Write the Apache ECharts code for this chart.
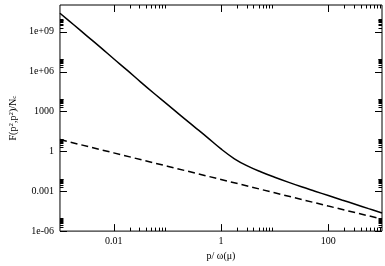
<!DOCTYPE html>
<html>
<head>
    <meta charset="UTF-8">
    <title></title>
    <script type="text/javascript" src="https://cdn.jsdelivr.net/npm/echarts@6/dist/echarts.min.js"></script>
</head>
<body style="margin:0">

<div id="main" style="height: 266px; width: 385px;"></div>
<script type="text/javascript">

    // values (log-log plot)
    var xSolid = [0.001, 0.00178, 0.00316, 0.00562, 0.01, 0.0178, 0.0316, 0.0562, 0.1, 0.178, 0.316, 0.562,
                  1, 1.78, 3.16, 5.62, 10, 17.8, 31.6, 56.2, 100, 178, 316, 562, 1000];
    var ySolid = [2.4e10, 3.4e9, 4.8e8, 6.8e7, 9.1e6, 1.26e6, 1.66e5, 2.3e4, 3.4e3, 480, 72, 10.7,
                  1.51, 0.275, 0.076, 0.0275, 0.0112, 4.8e-3, 2.14e-3, 1.0e-3, 4.7e-4, 2.2e-4, 1.05e-4, 4.9e-5, 2.3e-5];
    var xDashed = [0.001, 0.01, 0.1, 1, 10, 100, 1000];
    var yDashed = [7.6, 0.76, 0.076, 0.0076, 7.6e-4, 7.6e-5, 8e-6];

    var xTickVals = [0.01, 1, 100];
    var xTickLabels = ['0.01', '1', '100'];
    var yTickVals = [1e-6, 1e-3, 1, 1e3, 1e6, 1e9];
    var yTickLabels = ['1e-06', '0.001', '1', '1000', '1e+06', '1e+09'];
    var minorSteps = [2, 3, 4, 5, 6, 7, 8, 9];

    var xMin = 0.001, xMax = 1000, yMin = 1e-6, yMax = 1e11;

    var lg = function (v) { return Math.log10(v); };

    function pairs(xs, ys) {
        var res = [];
        for (var i = 0; i < xs.length; i++) res.push([lg(xs[i]), lg(ys[i])]);
        return res;
    }

    // tick data: major ticks + minor ticks (k * major)
    var xTickData = [], yTickData = [];
    xTickVals.forEach(function (v) {
        xTickData.push([lg(v), lg(yMin), 7]);
        minorSteps.forEach(function (k) { xTickData.push([lg(k * v), lg(yMin), 3.5]); });
    });
    yTickVals.forEach(function (v) {
        yTickData.push([lg(xMin), lg(v), 7]);
        minorSteps.forEach(function (k) { yTickData.push([lg(xMin), lg(k * v), 3.5]); });
    });

    function labelFor(vals, labels) {
        return function (v) {
            for (var i = 0; i < vals.length; i++) {
                if (Math.abs(lg(vals[i]) - v) < 1e-6) return labels[i];
            }
            return '';
        };
    }

    var font = 'Liberation Serif';
    var pen = { stroke: '#000', lineWidth: 1 };

    var myChart = echarts.init(document.getElementById('main'));

    option = {
        animation: false,
        grid: {
            left: 43, right: 2, top: 5, bottom: 23,
            show: true, borderColor: '#000', borderWidth: 1
        },
        xAxis: {
            type: 'value',
            min: lg(xMin), max: lg(xMax), interval: 1,
            axisLine: { show: false },
            axisTick: { show: false },
            splitLine: { show: false },
            axisLabel: {
                formatter: labelFor(xTickVals, xTickLabels),
                color: '#000', fontFamily: font, fontSize: 10, margin: 5
            },
            name: 'p/ ω(μ)',
            nameLocation: 'middle',
            nameGap: 15,
            nameTextStyle: { color: '#000', fontFamily: font, fontSize: 10 }
        },
        yAxis: {
            type: 'value',
            min: lg(yMin), max: lg(yMax), interval: 1,
            axisLine: { show: false },
            axisTick: { show: false },
            splitLine: { show: false },
            axisLabel: {
                formatter: labelFor(yTickVals, yTickLabels),
                color: '#000', fontFamily: font, fontSize: 10, margin: 6
            },
            name: '{n|F(p}{s|2}{n|,p}{s|2}{n|)/N}{c|c}',
            nameLocation: 'middle',
            nameGap: 30,
            nameTextStyle: {
                rich: {
                    n: { color: '#000', fontFamily: font, fontSize: 10, verticalAlign: 'bottom' },
                    s: { color: '#000', fontFamily: font, fontSize: 7, verticalAlign: 'top' },
                    c: { color: '#000', fontFamily: font, fontSize: 7, verticalAlign: 'bottom' }
                }
            }
        },
        series: [{
            type: 'line',
            data: pairs(xSolid, ySolid),
            smooth: 0.4,
            showSymbol: false,
            lineStyle: { color: '#000', width: 1.5 }
        }, {
            type: 'line',
            data: pairs(xDashed, yDashed),
            showSymbol: false,
            lineStyle: { color: '#000', width: 1.5, type: [7, 4] }
        }, {
            // ticks on bottom and top edges
            type: 'custom',
            data: xTickData,
            clip: false,
            silent: true,
            encode: { x: 0, y: 1 },
            renderItem: function (params, api) {
                var cs = params.coordSys;
                var x = Math.round(api.coord([api.value(0), api.value(1)])[0]) + 0.5;
                var len = api.value(2);
                var yb = cs.y + cs.height, yt = cs.y;
                return {
                    type: 'group',
                    children: [
                        { type: 'line', shape: { x1: x, y1: yb, x2: x, y2: yb - len }, style: pen },
                        { type: 'line', shape: { x1: x, y1: yt, x2: x, y2: yt + len }, style: pen }
                    ]
                };
            }
        }, {
            // ticks on left and right edges
            type: 'custom',
            data: yTickData,
            clip: false,
            silent: true,
            encode: { x: 0, y: 1 },
            renderItem: function (params, api) {
                var cs = params.coordSys;
                var y = Math.round(api.coord([api.value(0), api.value(1)])[1]) + 0.5;
                var len = api.value(2);
                var xl = cs.x, xr = cs.x + cs.width;
                return {
                    type: 'group',
                    children: [
                        { type: 'line', shape: { x1: xl, y1: y, x2: xl + len, y2: y }, style: pen },
                        { type: 'line', shape: { x1: xr, y1: y, x2: xr - len, y2: y }, style: pen }
                    ]
                };
            }
        }]
    };

    myChart.setOption(option);

</script>

</body>
</html>
